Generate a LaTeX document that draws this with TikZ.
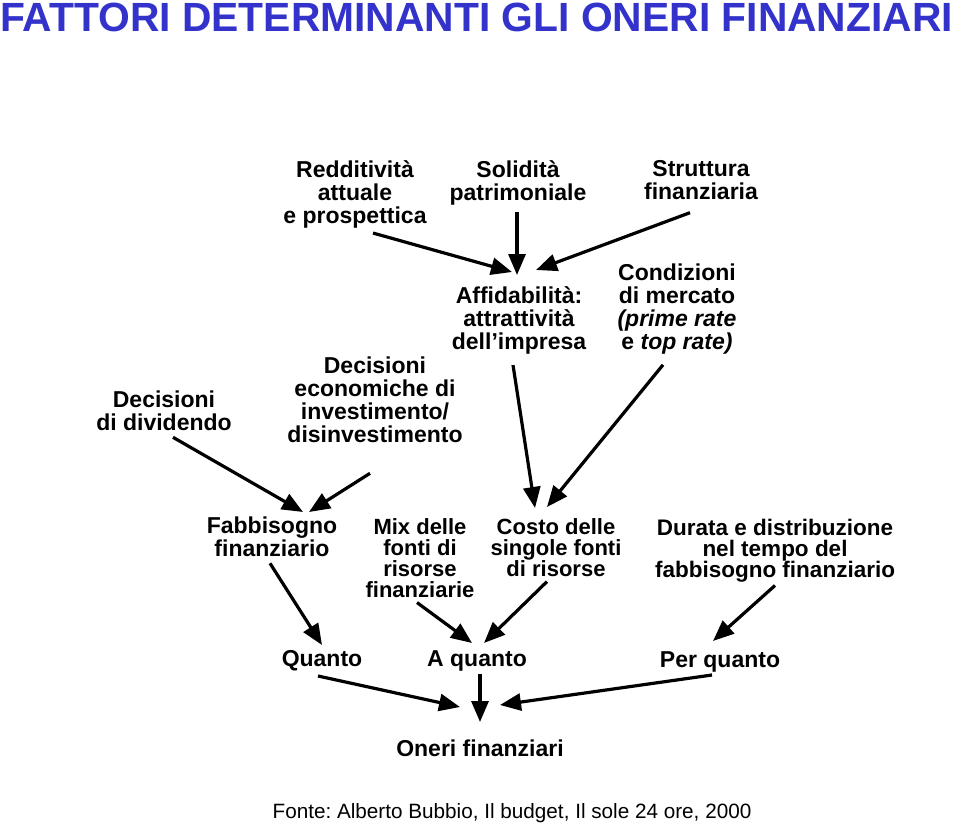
\documentclass[tikz,border=0pt]{standalone}
\usepackage{fontspec}
\setmainfont{Liberation Sans}
\usetikzlibrary{arrows.meta}
\definecolor{titleblue}{RGB}{51,51,204}
\frenchspacing

\begin{document}
\begin{tikzpicture}[x=1pt,y=-1pt,
        arr/.style={line width=3.2pt,-{Triangle[length=21pt,width=17pt]}}]
        \useasboundingbox (0,0) rectangle (960,824);
        \fill[white] (0,0) rectangle (960,824);

        \node[anchor=base west,inner sep=0pt,text=titleblue,font=\bfseries\fontsize{40.8}{44}\selectfont]
            (title) at (0,32) {FATTORI DETERMINANTI GLI ONERI FINANZIARI};
        \node[anchor=base,inner sep=0pt,font=\fontsize{20.7}{24}\selectfont]
            (fonte) at (512,818) {Fonte: Alberto Bubbio, Il budget, Il sole 24 ore, 2000};

        \begin{scope}[every node/.style={anchor=north,align=center,inner sep=3pt,font=\bfseries\fontsize{23}{23}\selectfont}]
            % Affidabilita
            \node (redd) at (355,157) {Redditività\\attuale\\e prospettica};
            \node (solid) at (518,157) {Solidità\\patrimoniale};
            \node (strutt) at (701,157) {Struttura\\finanziaria};
            \node (affid) at (519,283) {Affidabilità:\\attrattività\\dell'impresa};
            \node (cond) at (677,261) {Condizioni\\di mercato\\\textit{(prime rate}\\e \textit{top rate)}};

            % Decisioni
            \node (decec) at (375,354) {Decisioni\\economiche di\\investimento/\\disinvestimento};
            \node (divid) at (164,388) {Decisioni\\di dividendo};

            % Fattori
            \node (fabb) at (272,514) {Fabbisogno\\finanziario};
            \node[font=\bfseries\fontsize{22}{21}\selectfont] (mix) at (420,515) {Mix delle\\fonti di\\risorse\\finanziarie};
            \node[font=\bfseries\fontsize{22}{21}\selectfont] (costo) at (556,515) {Costo delle\\singole fonti\\di risorse};
            \node[font=\bfseries\fontsize{22.5}{21}\selectfont] (durata) at (775,516) {Durata e distribuzione\\nel tempo del\\fabbisogno finanziario};

            % Quanto
            \node (quanto) at (322,647) {Quanto};
            \node (aquanto) at (477,647) {A quanto};
            \node (perq) at (720,648) {Per quanto};
            \node (oneri) at (480,737) {Oneri finanziari};
        \end{scope}

        \path[arr] ([xshift=18pt,yshift=-2pt]redd.south) edge ([xshift=-7pt,yshift=11pt]affid.north);
        \path[arr] ([xshift=-1pt,yshift=-4pt]solid.south) edge ([xshift=-2pt,yshift=8pt]affid.north);
        \path[arr] ([xshift=-11pt,yshift=-10pt]strutt.south) edge ([xshift=17pt,yshift=13pt]affid.north);

        \path[arr] ([xshift=9pt,yshift=-3pt]divid.south) edge ([xshift=31pt,yshift=2pt]fabb.north);
        \path[arr] ([xshift=-5pt,yshift=-27pt]decec.south) edge ([xshift=37pt,yshift=2pt]fabb.north);
        \path[arr] ([xshift=-6pt,yshift=-8pt]affid.south) edge ([xshift=-21pt,yshift=7pt]costo.north);
        \path[arr] ([xshift=-14pt,yshift=-7pt]cond.south) edge ([xshift=-9pt,yshift=8pt]costo.north);

        \path[arr] ([xshift=-2pt,yshift=-3pt]fabb.south) edge ([yshift=2pt]quanto.north);
        \path[arr] ([xshift=-3pt,yshift=-2pt]mix.south) edge ([xshift=-5pt,yshift=4pt]aquanto.north);
        \path[arr] ([xshift=-9pt,yshift=-2pt]costo.south) edge ([xshift=7pt,yshift=4pt]aquanto.north);
        \path[arr] (durata.south) edge ([xshift=-7pt,yshift=7pt]perq.north);

        \path[arr] ([xshift=-4pt,yshift=-2pt]quanto.south) edge ([xshift=-20pt,yshift=30pt]oneri.north);
        \path[arr] ([xshift=3pt]aquanto.south) edge ([yshift=15pt]oneri.north);
        \path[arr] ([xshift=-8pt]perq.south) edge ([xshift=20pt,yshift=32pt]oneri.north);
    \end{tikzpicture}
\end{document}
